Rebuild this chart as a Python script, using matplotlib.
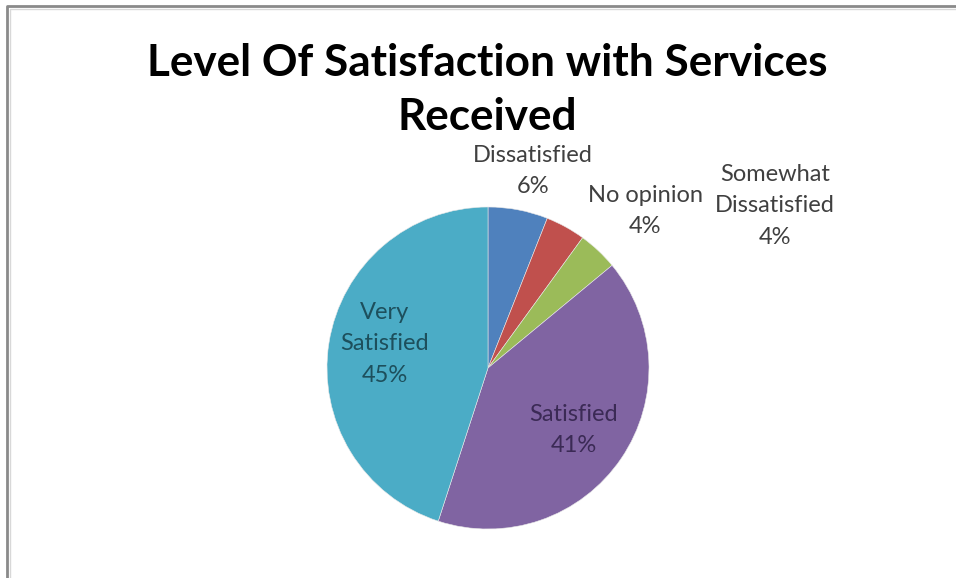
import matplotlib.pyplot as plt
from matplotlib.lines import Line2D

plt.rcParams['font.family'] = ['Lato', 'DejaVu Sans']

# survey answers, clockwise from 12 o'clock
categories = ['Dissatisfied', 'No opinion', 'Somewhat\nDissatisfied', 'Satisfied', 'Very\nSatisfied']
percent = [6, 4, 4, 41, 45]
colors = ['#4F81BD', '#C0504D', '#9BBB59', '#8064A2', '#4BACC6']

W, H = 956, 578
fig = plt.figure(figsize=(W / 100, H / 100), dpi=100)

# pie area: centre (488, 368) px, radius 161 px
cx, cy, r = 488, 368, 161
ax = fig.add_axes([(cx - r) / W, (H - cy - r) / H, 2 * r / W, 2 * r / H])
ax.pie(percent, colors=colors, startangle=90, counterclock=False, radius=1,
       wedgeprops=dict(linewidth=0.4, edgecolor='#e8e8e8'))
ax.set_xlim(-1, 1)
ax.set_ylim(-1, 1)
ax.set_aspect('equal')
ax.axis('off')

# label centres in pixels, and text colour
label_pos = [(533, 171), (645, 211), (775, 206), (574, 430), (385, 344)]
label_col = ['#404040', '#404040', '#404040', '#3b2a55', '#1d4f5c']
for name, val, (px, py), col in zip(categories, percent, label_pos, label_col):
    ax.text((px - cx) / r, (cy - py) / r, f'{name}\n{val}%', ha='center', va='center',
            fontsize=17, color=col, linespacing=1.6)

fig.text(487 / W, 1 - 90 / H, 'Level Of Satisfaction with Services\nReceived',
         ha='center', va='center', fontsize=31.8, fontweight='bold', color='black',
         linespacing=1.45)

# chart frame: only the top and left edges fall inside the image
for x, y, c, lw in [((7, 7), (578, 6), '#8a8a8a', 2.0), ((9.5, 9.5), (578, 8.5), '#d8d8d8', 1.0)]:
    fig.add_artist(Line2D([x[0] / W, x[1] / W, 1.1], [1 - y[0] / H - 0.1, 1 - y[1] / H, 1 - y[1] / H],
                          transform=fig.transFigure, color=c, linewidth=lw))

fig.savefig('out.png', dpi=100, facecolor='white')
